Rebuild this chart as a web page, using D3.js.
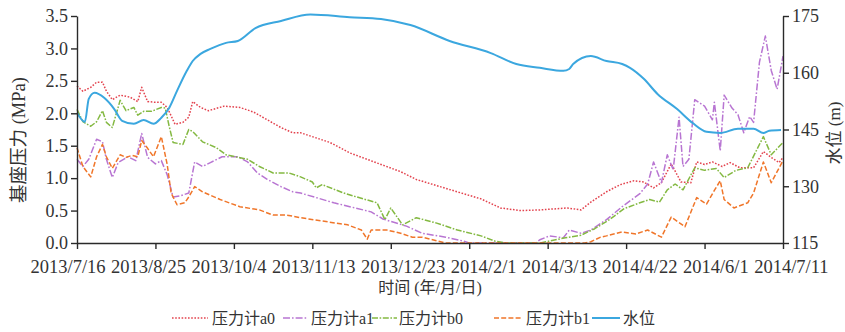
<!DOCTYPE html>
<html>
<head>
<meta charset="utf-8">
<script src="https://cdn.jsdelivr.net/npm/d3@7"></script>
<style>
  body { margin: 0; background: #fff; }
  svg { display: block; }
  text { font-family: "Liberation Serif", "Times New Roman", "Noto Sans CJK SC", serif; fill: #333; }
</style>
</head>
<body>
<svg id="chart" width="845" height="332"></svg>
<script>
// Base pressure of gauges a0, a1, b0, b1 (MPa) and reservoir water level (m)
const pressureA0 = [
  ["2013-07-16",2.42],["2013-07-19",2.34],["2013-07-23",2.40],["2013-07-26",2.48],["2013-07-29",2.48],
  ["2013-07-31",2.34],["2013-08-03",2.21],["2013-08-07",2.28],["2013-08-12",2.25],["2013-08-16",2.18],
  ["2013-08-18",2.40],["2013-08-21",2.18],["2013-08-25",2.17],["2013-08-28",2.17],["2013-08-31",2.09],
  ["2013-09-04",1.83],["2013-09-08",1.86],["2013-09-11",1.94],["2013-09-13",2.18],["2013-09-17",2.09],
  ["2013-09-21",2.04],["2013-09-29",2.11],["2013-10-07",2.09],["2013-10-14",2.02],["2013-10-21",1.90],
  ["2013-10-28",1.78],["2013-11-03",1.70],["2013-11-07",1.70],["2013-11-22",1.55],["2013-12-02",1.39],
  ["2013-12-19",1.20],["2013-12-28",1.10],["2014-01-05",0.98],["2014-01-17",0.87],["2014-01-28",0.77],
  ["2014-02-07",0.68],["2014-02-17",0.54],["2014-02-27",0.50],["2014-03-09",0.51],["2014-03-23",0.54],
  ["2014-03-30",0.51],["2014-04-04",0.63],["2014-04-12",0.79],["2014-04-19",0.90],["2014-04-26",0.96],
  ["2014-05-01",0.94],["2014-05-06",0.85],["2014-05-10",0.93],["2014-05-15",1.22],["2014-05-20",0.94],
  ["2014-05-25",0.93],["2014-05-28",1.25],["2014-06-01",1.21],["2014-06-05",1.25],["2014-06-10",1.18],
  ["2014-06-14",1.24],["2014-06-19",1.16],["2014-06-26",1.16],["2014-07-01",1.41],["2014-07-05",1.32],
  ["2014-07-09",1.24],["2014-07-11",1.32]
];
const pressureA1 = [
  ["2013-07-16",1.29],["2013-07-19",1.18],["2013-07-22",1.29],["2013-07-26",1.60],["2013-07-29",1.56],
  ["2013-07-31",1.29],["2013-08-03",1.01],["2013-08-06",1.24],["2013-08-11",1.33],["2013-08-15",1.27],
  ["2013-08-18",1.69],["2013-08-21",1.32],["2013-08-25",1.22],["2013-08-28",1.27],["2013-08-31",1.05],
  ["2013-09-03",0.71],["2013-09-07",0.73],["2013-09-11",0.77],["2013-09-14",1.25],["2013-09-18",1.18],
  ["2013-09-22",1.24],["2013-09-28",1.33],["2013-10-06",1.33],["2013-10-11",1.25],["2013-10-16",1.08],
  ["2013-10-21",0.98],["2013-10-28",0.87],["2013-11-03",0.79],["2013-11-07",0.77],["2013-11-24",0.62],
  ["2013-12-13",0.48],["2013-12-19",0.37],["2013-12-31",0.26],["2014-01-08",0.15],["2014-01-20",0.09],
  ["2014-01-29",0.03],["2014-02-01",0],["2014-03-07",0],["2014-03-09",0.05],["2014-03-14",0.11],
  ["2014-03-21",0.08],["2014-03-24",0.20],["2014-03-30",0.15],["2014-04-04",0.20],["2014-04-12",0.36],
  ["2014-04-20",0.56],["2014-04-29",0.76],["2014-05-03",0.91],["2014-05-06",1.25],["2014-05-10",0.93],
  ["2014-05-13",1.36],["2014-05-16",1.13],["2014-05-19",1.94],["2014-05-21",1.18],["2014-05-24",1.29],
  ["2014-05-27",2.21],["2014-06-01",2.11],["2014-06-05",1.90],["2014-06-06",2.17],["2014-06-09",1.42],
  ["2014-06-11",2.28],["2014-06-15",2.08],["2014-06-18",1.98],["2014-06-21",1.70],["2014-06-24",1.95],
  ["2014-06-26",1.86],["2014-06-29",2.79],["2014-07-02",3.19],["2014-07-05",2.66],["2014-07-08",2.37],
  ["2014-07-11",2.88]
];
const pressureB0 = [
  ["2013-07-16",2.06],["2013-07-19",1.87],["2013-07-23",1.80],["2013-07-26",1.87],["2013-07-29",2.04],
  ["2013-07-31",1.86],["2013-08-03",1.78],["2013-08-07",2.20],["2013-08-10",2.04],["2013-08-14",2.09],
  ["2013-08-16",1.97],["2013-08-19",2.03],["2013-08-23",2.03],["2013-08-28",2.09],["2013-08-30",2.08],
  ["2013-09-01",1.80],["2013-09-03",1.55],["2013-09-08",1.52],["2013-09-11",1.75],["2013-09-13",1.72],
  ["2013-09-18",1.56],["2013-09-25",1.47],["2013-09-30",1.36],["2013-10-11",1.29],["2013-10-17",1.18],
  ["2013-10-24",1.08],["2013-11-01",1.08],["2013-11-07",1.02],["2013-11-13",0.94],["2013-11-15",0.85],
  ["2013-11-18",0.90],["2013-11-29",0.77],["2013-12-09",0.68],["2013-12-16",0.62],["2013-12-20",0.36],
  ["2013-12-23",0.54],["2013-12-29",0.28],["2014-01-05",0.39],["2014-01-15",0.31],["2014-01-26",0.20],
  ["2014-02-07",0.11],["2014-02-14",0.03],["2014-02-20",0],["2014-03-09",0],["2014-03-22",0.08],
  ["2014-03-30",0.12],["2014-04-06",0.22],["2014-04-14",0.37],["2014-04-21",0.53],["2014-04-29",0.62],
  ["2014-05-04",0.67],["2014-05-09",0.63],["2014-05-13",0.82],["2014-05-17",0.91],["2014-05-21",0.82],
  ["2014-05-27",1.16],["2014-06-01",1.12],["2014-06-07",1.15],["2014-06-11",1.01],["2014-06-17",1.12],
  ["2014-06-23",1.16],["2014-07-01",1.64],["2014-07-05",1.36],["2014-07-11",1.55]
];
const pressureB1 = [
  ["2013-07-16",1.47],["2013-07-19",1.18],["2013-07-23",1.02],["2013-07-26",1.33],["2013-07-29",1.52],
  ["2013-07-31",1.33],["2013-08-03",1.15],["2013-08-07",1.36],["2013-08-10",1.32],["2013-08-13",1.35],
  ["2013-08-16",1.33],["2013-08-18",1.58],["2013-08-21",1.46],["2013-08-24",1.33],["2013-08-28",1.64],
  ["2013-08-31",1.21],["2013-09-02",0.77],["2013-09-05",0.59],["2013-09-09",0.62],["2013-09-11",0.71],
  ["2013-09-14",0.87],["2013-09-18",0.79],["2013-09-27",0.67],["2013-10-07",0.56],["2013-10-17",0.51],
  ["2013-10-24",0.43],["2013-10-31",0.43],["2013-11-07",0.39],["2013-11-20",0.33],["2013-12-01",0.28],
  ["2013-12-08",0.20],["2013-12-11",0.06],["2013-12-13",0.20],["2013-12-21",0.20],["2013-12-28",0.15],
  ["2014-01-03",0.09],["2014-01-08",0.09],["2014-01-16",0.03],["2014-01-20",0],["2014-04-01",0],
  ["2014-04-04",0.02],["2014-04-09",0.09],["2014-04-12",0.11],["2014-04-20",0.17],["2014-04-27",0.14],
  ["2014-05-03",0.20],["2014-05-10",0.09],["2014-05-15",0.40],["2014-05-22",0.25],["2014-05-28",0.70],
  ["2014-06-02",0.60],["2014-06-06",0.81],["2014-06-09",0.96],["2014-06-11",0.67],["2014-06-16",0.54],
  ["2014-06-23",0.62],["2014-06-26",0.77],["2014-07-01",1.25],["2014-07-05",0.93],["2014-07-11",1.27]
];
const waterLevel = [
  ["2013-07-16",149.4],["2013-07-20",147.0],["2013-07-22",153.1],["2013-07-25",154.7],["2013-07-30",153.3],
  ["2013-08-04",150.4],["2013-08-08",147.3],["2013-08-14",146.5],["2013-08-19",147.5],["2013-08-24",146.5],
  ["2013-08-28",148.1],["2013-09-01",150.7],["2013-09-05",155.2],["2013-09-10",160.5],["2013-09-13",163.1],
  ["2013-09-17",165.0],["2013-09-22",166.3],["2013-09-30",167.9],["2013-10-06",168.4],["2013-10-15",171.8],
  ["2013-10-28",173.7],["2013-11-12",175.4],["2013-12-02",174.7],["2013-12-18",174.2],["2014-01-02",172.6],
  ["2014-01-22",168.4],["2014-02-12",165.2],["2014-02-25",162.3],["2014-03-09",161.3],["2014-03-21",160.5],
  ["2014-03-24",161.0],["2014-03-26",162.3],["2014-04-04",164.4],["2014-04-12",163.1],["2014-04-20",162.3],
  ["2014-04-24",161.3],["2014-05-01",158.4],["2014-05-08",154.4],["2014-05-18",150.4],["2014-05-26",146.7],
  ["2014-06-02",144.4],["2014-06-09",144.1],["2014-06-18",145.2],["2014-06-26",145.2],["2014-07-01",144.1],
  ["2014-07-04",144.7],["2014-07-10",144.9]
];

const xTickDates = ["2013-07-16","2013-08-25","2013-10-04","2013-11-13","2013-12-23",
                    "2014-02-01","2014-03-13","2014-04-22","2014-06-01","2014-07-11"];
const pressureTicks = [0, 0.5, 1.0, 1.5, 2.0, 2.5, 3.0, 3.5];
const levelTicks = [115, 130, 145, 160, 175];
const seriesNames = ["压力计a0", "压力计a1", "压力计b0", "压力计b1", "水位"];

const parse = d3.timeParse("%Y-%m-%d");
const svg = d3.select("#chart");
const plotLeft = 77, plotRight = 783, plotTop = 16, plotBottom = 243;

const x = d3.scaleTime()
  .domain([parse("2013-07-16"), parse("2014-07-11")])
  .range([plotLeft, plotRight]);
const yP = d3.scaleLinear().domain([0, 3.5]).range([plotBottom, plotTop]);
const yW = d3.scaleLinear().domain([115, 175]).range([plotBottom, plotTop]);

const styles = [
  { color: "#e3434e", dash: "1.6,1.6", width: 1.5 },
  { color: "#b875d2", dash: "7,2,1.6,2", width: 1.5 },
  { color: "#84b942", dash: "6,1.6,1.6,1.6", width: 1.5 },
  { color: "#f0762a", dash: "5,2.2", width: 1.5 },
  { color: "#3ba7df", dash: null, width: 2 }
];

const series = [
  { data: pressureA0, y: yP, curve: d3.curveLinear },
  { data: pressureA1, y: yP, curve: d3.curveLinear },
  { data: pressureB0, y: yP, curve: d3.curveLinear },
  { data: pressureB1, y: yP, curve: d3.curveLinear },
  { data: waterLevel, y: yW, curve: d3.curveMonotoneX }
];

const lines = svg.append("g");
series.forEach((s, i) => {
  const gen = d3.line()
    .x(d => x(parse(d[0])))
    .y(d => s.y(d[1]))
    .curve(s.curve);
  lines.append("path")
    .attr("d", gen(s.data))
    .attr("fill", "none")
    .attr("stroke", styles[i].color)
    .attr("stroke-width", styles[i].width)
    .attr("stroke-dasharray", styles[i].dash)
    .attr("stroke-linejoin", "round");
});

// Axes
const axisColor = "#2a2a2a";
function styleAxis(size) {
  return g => {
    g.attr("font-family", null).attr("font-size", null);
    g.selectAll("path.domain").attr("stroke", axisColor).attr("stroke-width", 1.4);
    g.selectAll(".tick line").attr("stroke", axisColor).attr("stroke-width", 1.4);
    g.selectAll(".tick text")
      .attr("fill", "#333")
      .style("font-family", '"Liberation Serif", "Times New Roman", serif')
      .style("font-size", size + "px");
  };
}

const xAxisG = svg.append("g")
  .attr("transform", `translate(0,${plotBottom})`)
  .call(d3.axisBottom(x)
    .tickValues(xTickDates.map(parse))
    .tickFormat(d3.timeFormat("%Y/%-m/%-d"))
    .tickSize(6).tickSizeOuter(0).tickPadding(11))
  .call(styleAxis(18.5));

// Date labels are set as one evenly gapped row spanning the full width under the axis
const labelRow = [30, 828];
const labelNodes = xAxisG.selectAll(".tick text");
const labelWidths = labelNodes.nodes().map(n => n.getComputedTextLength());
const labelGap = (labelRow[1] - labelRow[0] - d3.sum(labelWidths)) / (labelWidths.length - 1);
let cursor = labelRow[0];
labelNodes.each(function (d, i) {
  const center = cursor + labelWidths[i] / 2;
  d3.select(this).attr("x", center - x(d));
  cursor += labelWidths[i] + labelGap;
});

svg.append("g")
  .attr("transform", `translate(${plotLeft},0)`)
  .call(d3.axisLeft(yP)
    .tickValues(pressureTicks)
    .tickFormat(d3.format(".1f"))
    .tickSize(6).tickSizeOuter(0).tickPadding(3))
  .call(styleAxis(18));

svg.append("g")
  .attr("transform", `translate(${plotRight},0)`)
  .call(d3.axisRight(yW)
    .tickValues(levelTicks)
    .tickSize(6).tickSizeOuter(0).tickPadding(3))
  .call(styleAxis(18));

// Axis titles
svg.append("text")
  .attr("transform", `translate(19,140) rotate(-90)`)
  .attr("text-anchor", "middle")
  .attr("dominant-baseline", "central")
  .style("font-size", "18.5px")
  .text("基座压力 (MPa)");

svg.append("text")
  .attr("transform", `translate(834,133) rotate(-90)`)
  .attr("text-anchor", "middle")
  .attr("dominant-baseline", "central")
  .style("font-size", "17px")
  .text("水位 (m)");

svg.append("text")
  .attr("x", (plotLeft + plotRight) / 2)
  .attr("y", 293)
  .attr("text-anchor", "middle")
  .style("font-size", "16px")
  .text("时间 (年/月/日)");

// Legend
const legendY = 318;
const legendItems = [
  { x1: 172, x2: 208, tx: 212 },
  { x1: 283, x2: 308, tx: 311 },
  { x1: 372, x2: 397, tx: 399 },
  { x1: 494, x2: 522, tx: 526 },
  { x1: 592, x2: 620, tx: 623 }
];
const legend = svg.append("g");
legendItems.forEach((p, i) => {
  legend.append("line")
    .attr("x1", p.x1).attr("x2", p.x2)
    .attr("y1", legendY).attr("y2", legendY)
    .attr("stroke", styles[i].color)
    .attr("stroke-width", styles[i].width)
    .attr("stroke-dasharray", styles[i].dash);
  legend.append("text")
    .attr("x", p.tx).attr("y", legendY)
    .attr("dominant-baseline", "central")
    .style("font-size", "16px")
    .text(seriesNames[i]);
});
</script>
</body>
</html>
